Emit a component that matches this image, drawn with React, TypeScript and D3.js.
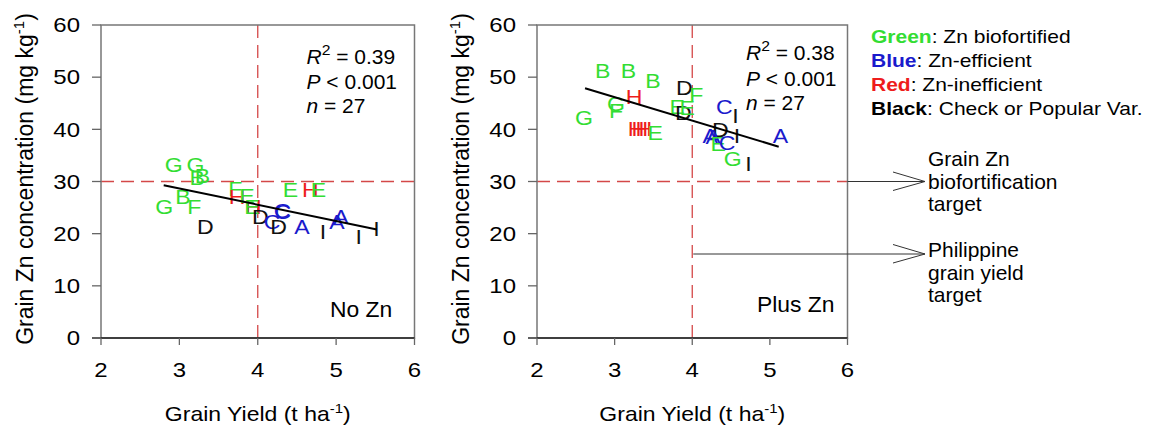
import React from "react";
import * as d3 from "d3";

// ---------- data ----------
const xTicks = [2, 3, 4, 5, 6];
const yTicks = [0, 10, 20, 30, 40, 50, 60];

// No Zn panel
const noZnGenotype = ["G","G","B","B","G","B","F","D","F","H","E","H","E","D","C","C","C","D","A","E","H","E","I","A","A","I","I"];
const noZnYield = [2.927,3.204,3.229,3.293,2.808,3.047,3.19,3.33,3.714,3.736,3.863,3.944,3.927,4.033,4.183,4.31,4.32,4.267,4.565,4.416,4.671,4.773,4.833,5.063,5.012,5.288,5.514];
const noZnConc = [33.35,33.35,30.7,31.2,25.3,27.2,25.3,21.3,28.6,27.2,27.4,25.3,25.2,23.2,22.3,24.4,24.3,21.3,21.3,28.4,28.4,28.4,20.4,23.25,22.3,19.4,20.9];
const noZnFit = { slope: -3.125, intercept: 38.05, xMin: 2.8, xMax: 5.52 };
const noZnStats = ["0.39", "0.001", "27"];

// Plus Zn panel
const plusZnGenotype = ["B","B","B","D","F","H","G","F","G","E","D","E","H","H","H","E","C","I","D","A","A","E","C","I","A","G","I"];
const plusZnYield = [2.848,3.178,3.493,3.897,4.052,3.252,3.019,3.019,2.606,3.806,3.884,3.935,3.275,3.325,3.375,3.523,4.413,4.555,4.361,4.232,4.271,4.335,4.448,4.577,5.135,4.523,4.723];
const plusZnConc = [51.2,51.2,49.3,48.05,46.6,46.25,44.9,43.7,42.2,44.3,43.3,44.1,40.2,40.2,40.2,39.4,44.3,42.7,39.9,38.9,38.7,37.2,37.4,38.9,38.9,34.5,33.4];
const plusZnFit = { slope: -4.49, intercept: 59.63, xMin: 2.619, xMax: 5.114 };
const plusZnStats = ["0.38", "0.001", "27"];

const targetZn = 30;
const targetYield = 4;
const yieldArrowZn = 16.1;

const legendGroups = [
  { word: "Green", rest: ": Zn biofortified", color: "#33dd33" },
  { word: "Blue", rest: ": Zn-efficient", color: "#1a1acc" },
  { word: "Red", rest: ": Zn-inefficient", color: "#ee1c1c" },
  { word: "Black", rest: ": Check or Popular Var.", color: "#000000" },
];
const groupOf: Record<string, string> = { B: "#33dd33", E: "#33dd33", F: "#33dd33", G: "#33dd33", A: "#1a1acc", C: "#1a1acc", H: "#ee1c1c", D: "#111111", I: "#111111" };

const FONT = "'Liberation Sans', Arial, Helvetica, sans-serif";
const yScale = d3.scaleLinear().domain([0, 60]).range([338, 25]);

function T({ x, y, sx = 1, size, anchor = "start", fill = "#000", weight, italic, children }: any) {
  return (
    <text transform={`translate(${x},${y}) scale(${sx},1)`} fontSize={size} textAnchor={anchor} fill={fill}
      fontWeight={weight} fontStyle={italic ? "italic" : undefined}>{children}</text>
  );
}

function Panel({ x0, x1, genotype, yields, conc, fit, stats, statsX, statsY, label, labelX, labelY, right }: any) {
  const xScale = d3.scaleLinear().domain([2, 6]).range([x0, x1]);
  const top = yScale(60), bottom = yScale(0);
  const line = d3.line<number>().x((d) => xScale(d)).y((d) => yScale(fit.intercept + fit.slope * d));
  const dash = "13 7";
  const red = "#d44848";
  return (
    <g>
      {/* targets */}
      <line x1={xScale(targetYield)} x2={xScale(targetYield)} y1={top} y2={bottom} stroke={red} strokeWidth={1.3} strokeDasharray={dash} />
      <line x1={x0} x2={x1} y1={yScale(targetZn)} y2={yScale(targetZn)} stroke={red} strokeWidth={1.3} strokeDasharray={dash} />
      {/* points as letters */}
      {genotype.map((g: string, i: number) => (
        <T key={i} x={xScale(yields[i])} y={yScale(conc[i]) + 7.5} sx={1.1} size={21} anchor="middle" fill={groupOf[g]}>{g}</T>
      ))}
      {/* regression */}
      <path d={line([fit.xMin, fit.xMax]) || ""} stroke="#000" strokeWidth={2} fill="none" />
      {/* box */}
      <rect x={x0} y={top} width={x1 - x0} height={bottom - top} fill="none" stroke="#777" strokeWidth={1.5} />
      <line x1={x0 - 9} x2={x1} y1={bottom} y2={bottom} stroke="#222" strokeWidth={1.3} />
      {/* ticks */}
      {yTicks.map((t) => (
        <g key={"y" + t}>
          <line x1={x0 - 9} x2={x0} y1={yScale(t)} y2={yScale(t)} stroke="#666" strokeWidth={1.3} />
          <T x={x0 - 21} y={yScale(t) + 7.3} sx={1.2} size={20} anchor="end">{t}</T>
        </g>
      ))}
      {xTicks.map((t) => (
        <g key={"x" + t}>
          <line x1={xScale(t)} x2={xScale(t)} y1={bottom} y2={bottom + 7} stroke="#666" strokeWidth={1.3} />
          <T x={xScale(t)} y={377} sx={1.2} size={20} anchor="middle">{t}</T>
        </g>
      ))}
      {/* axis titles */}
      <T x={(x0 + x1) / 2} y={421} sx={1.15} size={20} anchor="middle">
        Grain Yield (t ha<tspan dy={-8} fontSize={13}>-1</tspan><tspan dy={8}>)</tspan>
      </T>
      <text transform={`translate(${x0 - 68},179) rotate(-90)`} fontSize={23} textAnchor="middle">
        Grain Zn concentration (mg kg<tspan dy={-9} fontSize={15}>-1</tspan><tspan dy={9}>)</tspan>
      </text>
      {/* stats */}
      <T x={statsX} y={statsY[0]} sx={1.05} size={20}>
        <tspan fontStyle="italic">R</tspan><tspan dy={-9} fontSize={15}>2</tspan><tspan dy={9}> = {stats[0]}</tspan>
      </T>
      <T x={statsX} y={statsY[1]} sx={1.05} size={20}>
        <tspan fontStyle="italic">P</tspan> &lt; {stats[1]}
      </T>
      <T x={statsX} y={statsY[2]} sx={1.05} size={20}>
        <tspan fontStyle="italic">n</tspan> = {stats[2]}
      </T>
      <T x={labelX} y={labelY} sx={1.04} size={22}>{label}</T>
      {right && (
        <g>
          <line x1={xScale(targetYield) + 1} x2={x1} y1={yScale(yieldArrowZn)} y2={yScale(yieldArrowZn)} stroke="#333" strokeWidth={1} />
        </g>
      )}
    </g>
  );
}

function Arrow({ x0, tip, y }: any) {
  return (
    <g stroke="#333" strokeWidth={1} fill="none">
      <line x1={x0} x2={tip} y1={y} y2={y} />
      <line x1={tip - 32} x2={tip} y1={y - 9.5} y2={y} />
      <line x1={tip - 32} x2={tip} y1={y + 9} y2={y} />
    </g>
  );
}

export default function App() {
  const rightX1 = 847.5;
  return (
    <svg width={1152} height={433} style={{ position: "absolute", left: 0, top: 0, background: "#fff" }} fontFamily={FONT}>
      <rect width={1152} height={433} fill="#fff" />
      <Panel x0={101} x1={414.5} genotype={noZnGenotype} yields={noZnYield} conc={noZnConc} fit={noZnFit}
        stats={noZnStats} statsX={306.5} statsY={[64, 89, 113]} label="No Zn" labelX={330} labelY={317} />
      <Panel x0={537} x1={rightX1} genotype={plusZnGenotype} yields={plusZnYield} conc={plusZnConc} fit={plusZnFit}
        stats={plusZnStats} statsX={746} statsY={[60, 86, 110]} label="Plus Zn" labelX={757} labelY={311.5} right />
      <Arrow x0={rightX1} tip={925} y={yScale(targetZn)} />
      <Arrow x0={rightX1} tip={925} y={yScale(yieldArrowZn)} />
      {["Grain Zn", "biofortification", "target"].map((s, i) => (
        <T key={s} x={928} y={166 + i * 22.5} sx={1.05} size={20}>{s}</T>
      ))}
      {["Philippine", "grain yield", "target"].map((s, i) => (
        <T key={s} x={928} y={257 + i * 22.5} sx={1.05} size={20}>{s}</T>
      ))}
      {legendGroups.map((g, i) => (
        <T key={g.word} x={871} y={43 + i * 24} sx={1.13} size={18.6}>
          <tspan fontWeight="bold" fill={g.color}>{g.word}</tspan>{g.rest}
        </T>
      ))}
    </svg>
  );
}
